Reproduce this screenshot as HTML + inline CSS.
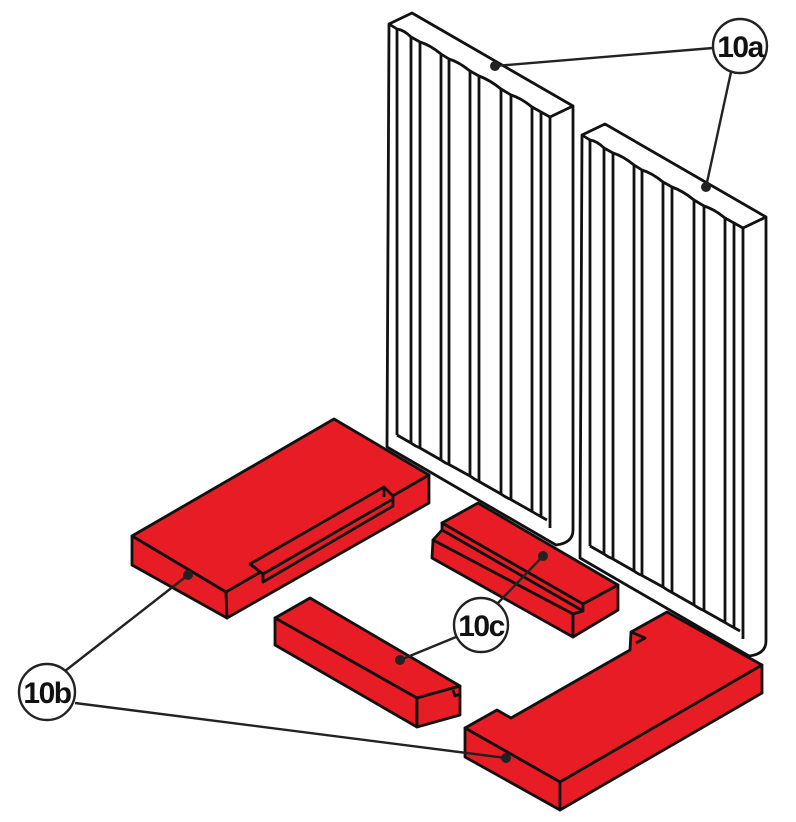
<!DOCTYPE html>
<html><head><meta charset="utf-8"><style>
html,body{margin:0;padding:0;background:#fff;}
svg{display:block;}
text{font-family:"Liberation Sans",sans-serif;font-weight:bold;}
</style></head><body>
<svg width="796" height="822" viewBox="0 0 796 822" xmlns="http://www.w3.org/2000/svg">
<defs>
<g id="panel" fill="none" stroke="#111" stroke-width="2.8" stroke-linejoin="round">
  <path d="M389,24 L412,13 L573,106 L573,530 Q573,543 556,545 L387,447 L389,24 Z" fill="#fff"/>
  <path d="M550,117 L573,106"/>
  <path d="M389,24 L397,29 Q404,30 411,37 L420,42 Q430,45 441,54 L449,59 Q459,62 470,71 L479,76 Q490,80 501,89 L511,95 Q521,98 532,107 L541,112 L550,117"/>
  <path d="M397,435 L411,443 Q415,446 420,448 L441,460 Q445,463 449,464.5 L470,476 Q474,479 479,481.5 L501,494 Q505,497 511,499.6 L532,511.5 Q536,514 541,516.6 L547,520"/>
  <path d="M397,29 V435 M411,37 V443 M420,42 V448 M441,54 V460 M449,59 V464.5 M470,71 V476 M479,76 V481.5 M501,89 V494 M511,95 V499.6 M532,107 V511.5 M541,112 V516.6 M550,117 V528"/>
</g>
</defs>
<use href="#panel"/>
<use href="#panel" transform="translate(193,111)"/>

<g stroke="#111" stroke-width="2.8" stroke-linejoin="round" fill="#e81c24">
  <!-- slab A -->
  <polygon points="132,536 334,419 429,475 226,592"/>
  <polygon points="132,536 226,592 227,618 132,565"/>
  <polygon points="226,592 429,475 429,503 227,618"/>
  <polygon points="250,564 384,487 393,496 393,506 263,582 263,574"/>
  <path d="M250,564 L263,574 L393,499 M263,574 V582 M384,487 V497" fill="none"/>
  <!-- brick B -->
  <polygon points="275,618 310,598 460,686 417,698"/>
  <polygon points="275,618 417,698 417,727 275,645"/>
  <polygon points="417,698 460,686 460,715 417,727"/>
  <path d="M453,690 L455,696 L460,694" fill="none"/>
  <!-- brick C -->
  <polygon points="442,523 478,503 618,585 583,604"/>
  <polygon points="442,523 583,604 583,611 442,530"/>
  <polygon points="442,530 583,611 573,614 433,540"/>
  <polygon points="433,540 573,614 573,637 432,558"/>
  <polygon points="573,614 583,611 583,604 618,585 618,610 573,637"/>
  <!-- slab D -->
  <polygon points="465,728 497,710 511,718 630,650 631,632 667,612 762,665 560,782"/>
  <path d="M631,632 L645,638 L636,643" fill="none"/>
  <polygon points="465,728 560,782 560,810 465,757"/>
  <polygon points="560,782 762,665 762,693 560,810"/>
</g>

<g stroke="#222" stroke-width="2.4" fill="none">
  <line x1="495" y1="66" x2="713" y2="48"/>
  <line x1="706" y1="187" x2="731" y2="72"/>
  <line x1="188" y1="575" x2="65" y2="671"/>
  <line x1="506" y1="758" x2="75" y2="703"/>
  <line x1="543" y1="556" x2="498" y2="603"/>
  <line x1="400" y1="660" x2="456" y2="637"/>
</g>
<g fill="#222">
  <circle cx="495" cy="66" r="5"/><circle cx="706" cy="187" r="5"/>
  <circle cx="188" cy="575" r="5"/><circle cx="506" cy="758" r="5"/>
  <circle cx="543" cy="556" r="5"/><circle cx="400" cy="660" r="5"/>
</g>
<g stroke="#222" stroke-width="2.4" fill="#fff">
  <circle cx="740" cy="46" r="27"/>
  <circle cx="47" cy="692" r="28"/>
  <circle cx="481" cy="625" r="27"/>
</g>
<g fill="#111" font-size="30" text-anchor="middle">
  <text x="740" y="57" letter-spacing="-1.5">10a</text>
  <text x="47" y="703" letter-spacing="-1.5">10b</text>
  <text x="481" y="636" letter-spacing="-1.5">10c</text>
</g>
</svg>
</body></html>
